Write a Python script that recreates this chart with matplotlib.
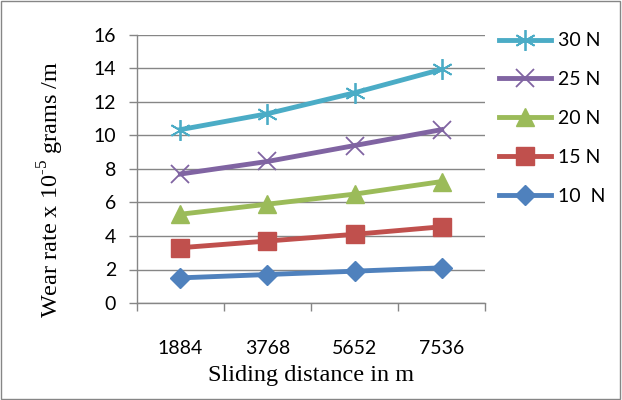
import matplotlib
matplotlib.use('Agg')
import matplotlib.pyplot as plt

# Dados
distancias = ['1884', '3768', '5652', '7536']
cargas = ['10  N', '15 N', '20 N', '25 N', '30 N']
w10 = [1.5, 1.7, 1.9, 2.1]
w15 = [3.3, 3.7, 4.1, 4.55]
w20 = [5.3, 5.9, 6.5, 7.25]
w25 = [7.7, 8.45, 9.4, 10.35]
w30 = [10.35, 11.3, 12.55, 13.95]

cores = ['#4F81BD', '#C0504D', '#9BBB59', '#8064A2', '#4BACC6']
marcadores = ['D', 's', '^', 'x', (6, 2, 0)]
tamanhos = [10, 12.5, 13, 13, 15]

plt.rcParams['mathtext.fontset'] = 'custom'
plt.rcParams['mathtext.rm'] = 'Liberation Serif'

fig = plt.figure(figsize=(6.22, 4.0), dpi=100)
ax = fig.add_axes([0.220, 0.2425, 0.560, 0.670])

x = range(len(distancias))
series = [w10, w15, w20, w25, w30]
linhas = []
for serie, cor, mk, ms, rot in zip(series, cores, marcadores, tamanhos, cargas):
    if mk in ('D', 's', '^'):
        l, = ax.plot(x, serie, color=cor, lw=3.5, marker=mk, ms=ms,
                     mec=cor, label=rot)
    else:
        l, = ax.plot(x, serie, color=cor, lw=3.5, marker=mk, ms=ms,
                     mew=1.3, label=rot)
    linhas.append(l)

ax.set_xlim(-0.5, 3.5)
ax.set_ylim(0, 16)
ax.set_yticks(range(0, 17, 2))
ax.set_xticks(list(x))
ax.set_xticklabels(distancias)
ax.set_xticks([-0.5, 0.5, 1.5, 2.5, 3.5], minor=True)
ax.tick_params(axis='x', which='major', length=0, pad=27, labelsize=14)
ax.tick_params(axis='x', which='minor', length=6, color='#868686', width=1)
ax.tick_params(axis='y', length=6, color='#868686', width=1, labelsize=14, pad=9)
for lab in ax.get_xticklabels() + ax.get_yticklabels():
    lab.set_fontfamily('Lato')

ax.grid(axis='y', color='#868686', lw=1)
ax.set_axisbelow(True)
for s in ['top', 'right']:
    ax.spines[s].set_visible(False)
for s in ['left', 'bottom']:
    ax.spines[s].set_color('#868686')
    ax.spines[s].set_linewidth(1)

# Rótulos dos eixos
fig.text(311 / 622, 1 - 376 / 400, 'Sliding distance in m', family='Liberation Serif',
         fontsize=17.5, ha='center', va='center')
fig.text(51 / 622, 1 - 189 / 400, r'Wear rate x 10$^{\text{-5}}$ grams /m',
         family='Liberation Serif', fontsize=17.5, ha='center', va='center', rotation=90)

fig.legend(linhas[::-1], cargas[::-1], loc='upper left', bbox_to_anchor=(0.802, 0.919),
           frameon=False, prop={'family': 'Lato', 'size': 14}, handlelength=2.7,
           labelspacing=1.12, handletextpad=0.35, borderpad=0, borderaxespad=0)

# Moldura externa
fig.patches.append(plt.Rectangle((0.002, 0.003), 0.995, 0.994, transform=fig.transFigure,
                                 fill=False, edgecolor='#868686', lw=1))

plt.savefig('out.png', dpi=100)
plt.close()
